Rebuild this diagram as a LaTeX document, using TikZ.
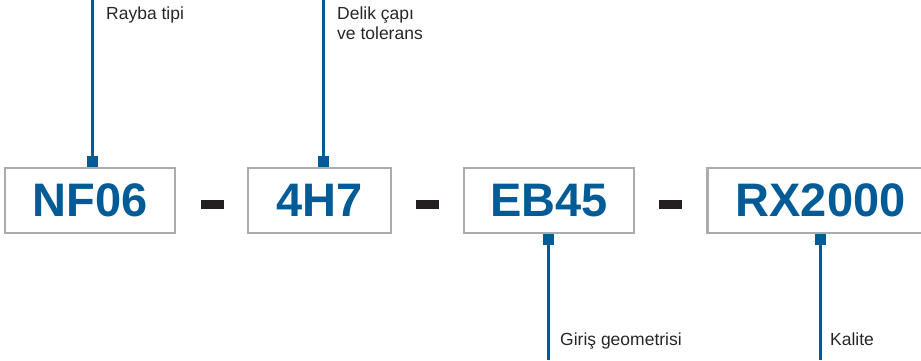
\documentclass[tikz,border=0pt]{standalone}
\usepackage{fontspec}
\setmainfont{Liberation Sans}
\usepackage{tikz}
\usetikzlibrary{positioning,calc}

\definecolor{codeblue}{HTML}{005B96}
\definecolor{boxgray}{HTML}{ABABAE}
\definecolor{dashblack}{HTML}{231F20}

\begin{document}
\begin{tikzpicture}[
    x=1pt, y=1pt,
    codebox/.style={draw=boxgray, line width=2.2pt, rectangle, inner sep=0pt, minimum height=65pt,
        text=codeblue, font=\fontsize{47}{50}\selectfont\bfseries},
    sep/.style={rectangle, fill=dashblack, inner sep=0pt, minimum width=23pt, minimum height=9pt},
    pin/.style={rectangle, fill=codeblue, inner sep=0pt, minimum size=11pt},
    lead/.style={draw=codeblue, line width=2.4pt},
    note/.style={inner sep=0pt, align=left, font=\fontsize{17.5}{20}\selectfont, text=black!85}
]
    \useasboundingbox (0,0) rectangle (921,360);
    \coordinate (top) at (0,360);
    \coordinate (bot) at (0,0);

    % Code boxes
    \node[codebox, minimum width=170pt] (nf) at (90,159.5) {NF06};
    \node[codebox, minimum width=143pt] (h7) at (319.5,159.5) {4H7};
    \node[codebox, minimum width=170pt] (eb) at (549,159.5) {EB45};
    \node[codebox, minimum width=226pt] (rx) at (820.5,159.5) {RX2000};

    % Separators
    \node[sep] (d1) at (212.5,155.5) {};
    \node[sep] (d2) at (427.5,155.5) {};
    \node[sep] (d3) at (670.5,155.5) {};

    % Pins on the boxes
    \node[pin, anchor=south] (p1) at (92.5,193) {};
    \node[pin, anchor=south] (p2) at (323.5,193) {};
    \node[pin, anchor=north] (p3) at (548.5,126) {};
    \node[pin, anchor=north] (p4) at (820.5,126) {};

    % Leader lines
    \draw[lead] (p1.center) -- (p1 |- top);
    \draw[lead] (p2.center) -- (p2 |- top);
    \draw[lead] (p3.center) -- (p3 |- bot);
    \draw[lead] (p4.center) -- (p4 |- bot);

    % Notes
    \node[note, anchor=base west] (n1) at (106,340.5) {Rayba tipi};
    \node[note, anchor=north west] (n2) at (337,353.5) {Delik çapı\\ve tolerans};
    \node[note, anchor=base west] (n3) at (560,15) {Giriş geometrisi};
    \node[note, anchor=base west] (n4) at (830,15) {Kalite};
\end{tikzpicture}
\end{document}
